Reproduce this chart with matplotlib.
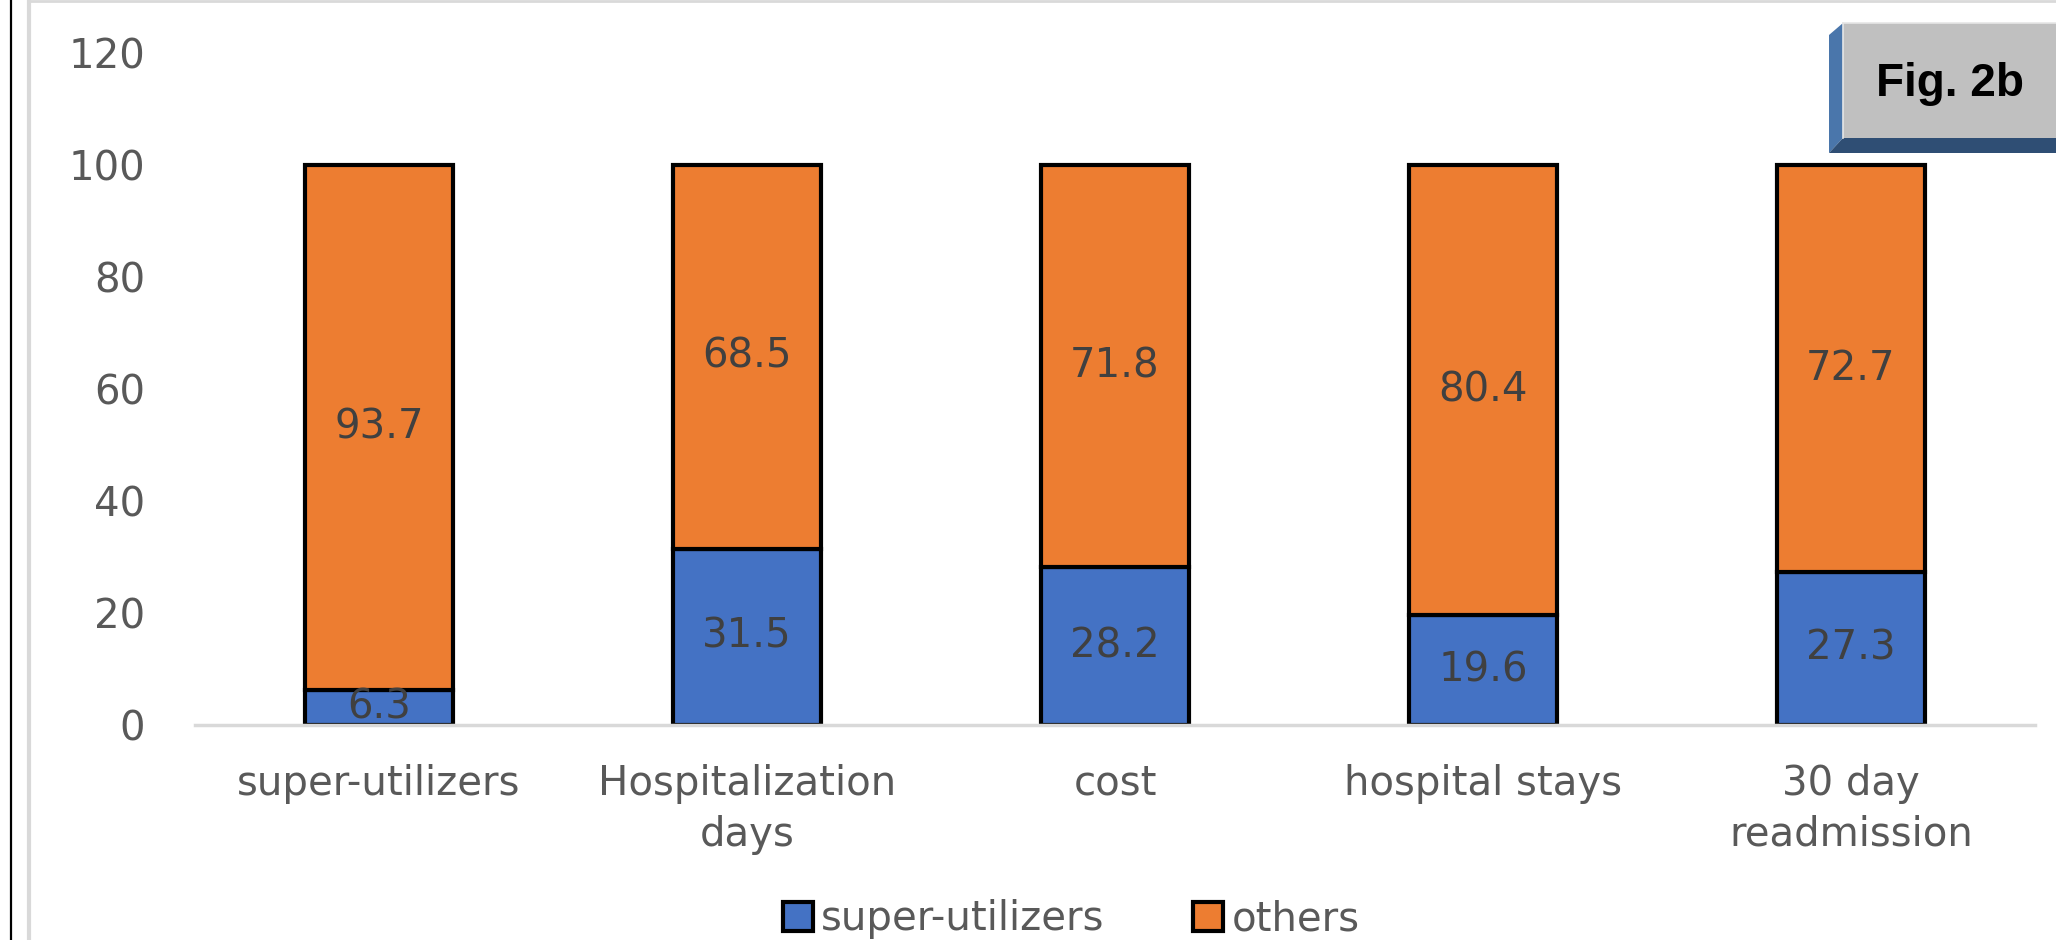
import numpy as np
import matplotlib.pyplot as plt
from matplotlib.patches import Patch, Polygon, Rectangle
from matplotlib.lines import Line2D

categories = ['super-utilizers', 'Hospitalization\ndays', 'cost', 'hospital stays', '30 day\nreadmission']
super_utilizers = [6.3, 31.5, 28.2, 19.6, 27.3]
others = [93.7, 68.5, 71.8, 80.4, 72.7]
yticks = [0, 20, 40, 60, 80, 100, 120]

blue = '#4472C4'
orange = '#ED7D31'
grey_txt = '#595959'

W, H = 2056, 940
fig = plt.figure(figsize=(W / 100, H / 100), dpi=100)
ax = fig.add_axes([195 / W, 1 - 725 / H, 1840 / W, 672 / H])

x = np.arange(len(categories))
ax.bar(x, super_utilizers, width=0.4, color=blue, edgecolor='black', linewidth=3)
ax.bar(x, others, width=0.4, bottom=super_utilizers, color=orange, edgecolor='black', linewidth=3)

for i in range(len(x)):
    ax.text(x[i], super_utilizers[i] / 2, f'{super_utilizers[i]:.1f}', ha='center', va='center',
            fontsize=29, color='#404040')
    ax.text(x[i], super_utilizers[i] + others[i] / 2, f'{others[i]:.1f}', ha='center', va='center',
            fontsize=29, color='#404040')

ax.set_xlim(-0.5, len(x) - 0.5)
ax.set_ylim(0, 120)
ax.set_yticks(yticks)
ax.set_xticks(x)
ax.set_xticklabels(categories, fontsize=29, color=grey_txt, linespacing=1.35)
ax.tick_params(axis='y', length=0, pad=36, labelsize=29, labelcolor=grey_txt)
ax.tick_params(axis='x', length=0, pad=28)
for s in ['top', 'right', 'left']:
    ax.spines[s].set_visible(False)
ax.spines['bottom'].set_color('#d9d9d9')
ax.spines['bottom'].set_linewidth(2.5)

handles = [Patch(facecolor=blue, edgecolor='black', linewidth=3),
           Patch(facecolor=orange, edgecolor='black', linewidth=3)]
fig.legend(handles, ['super-utilizers', 'others'], loc='center', bbox_to_anchor=(0.521, 0.022),
           ncol=2, frameon=False, fontsize=29, labelcolor=grey_txt,
           handlelength=0.75, handleheight=0.75, handletextpad=0.2, columnspacing=2.2)

# frame lines on the left and top edges
def px(xp, yp):
    return (xp / W, 1 - yp / H)

fig.add_artist(Line2D([11 / W, 11 / W], [0, 1], color='black', linewidth=1.6))
fig.add_artist(Line2D([29 / W, 29 / W], [0, 1], color='#d9d9d9', linewidth=3))
fig.add_artist(Line2D([29 / W, 1], [1 - 1 / H, 1 - 1 / H], color='#d9d9d9', linewidth=2))

# bevelled "Fig. 2b" box
fig.add_artist(Polygon([px(1829, 35), px(1843, 23), px(1843, 138), px(1829, 153)],
                       closed=True, facecolor='#4a76ab', edgecolor='none', transform=fig.transFigure))
fig.add_artist(Polygon([px(1829, 153), px(1843, 138), px(2056, 138), px(2056, 153)],
                       closed=True, facecolor='#2f4e74', edgecolor='none', transform=fig.transFigure))
fig.add_artist(Rectangle(px(1843, 138), (2056 - 1843) / W, 115 / H, facecolor='#c0c0c0',
                         edgecolor='none', transform=fig.transFigure))
fig.add_artist(Line2D([1843 / W, 1843 / W], [1 - 138 / H, 1 - 23 / H], color='#e6e6e6', linewidth=1.2))
fig.add_artist(Line2D([1843 / W, 1], [1 - 23 / H, 1 - 23 / H], color='#e6e6e6', linewidth=1.2))
fig.text(1950 / W, 1 - 84 / H, 'Fig. 2b', ha='center', va='center', fontsize=33,
         fontweight='bold', family='Liberation Sans', color='black')

fig.savefig('out.png', dpi=100)
